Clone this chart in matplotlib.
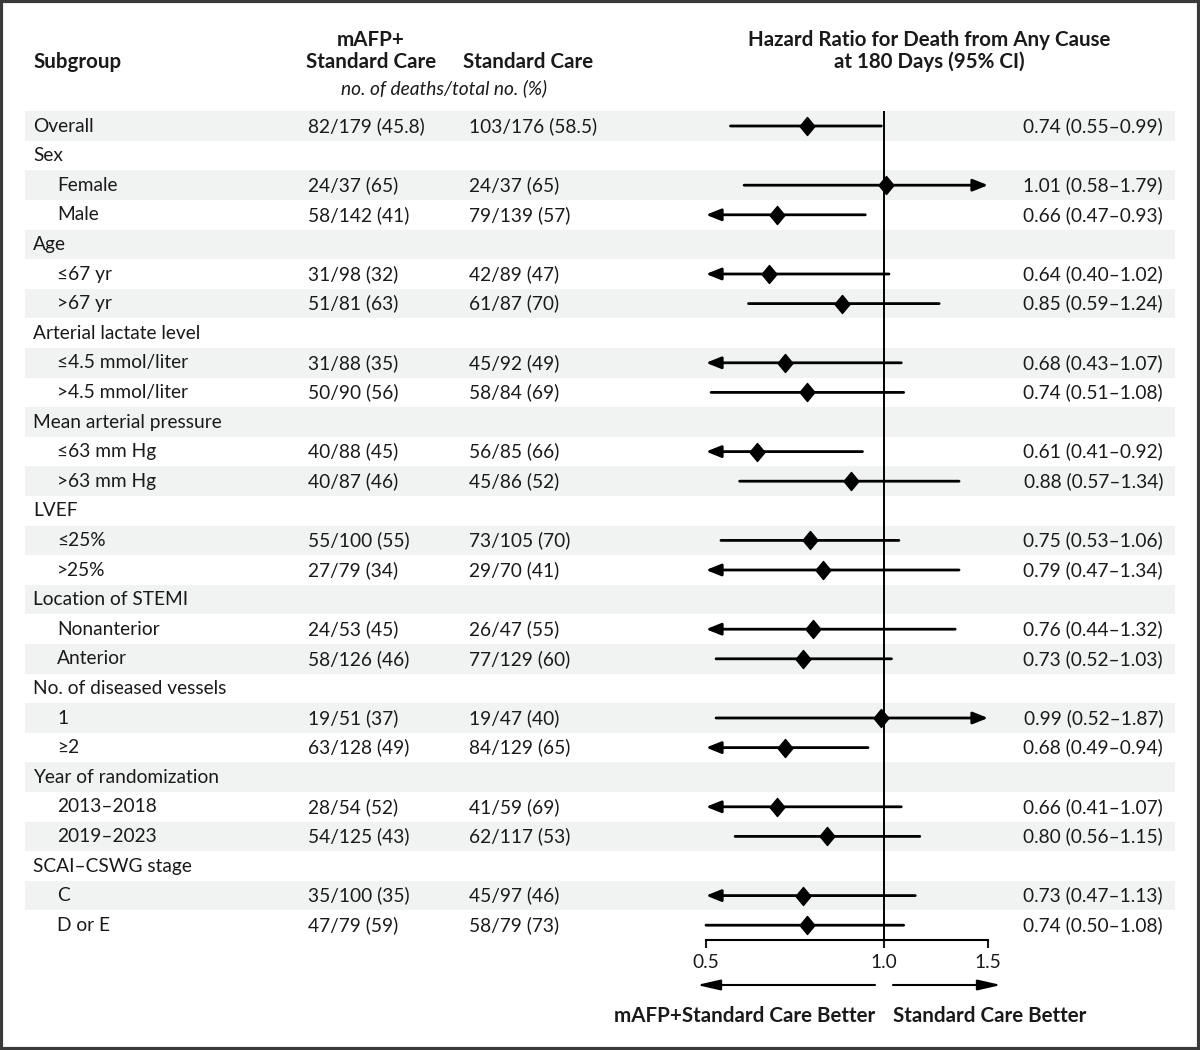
import matplotlib
matplotlib.use("Agg")
import matplotlib.pyplot as plt
import matplotlib.transforms as mtransforms
from matplotlib.patches import Rectangle
from matplotlib.path import Path

plt.rcParams['font.family'] = ['Lato', 'DejaVu Sans']

# subgroup rows (header rows have no numbers)
subgroups = ["Overall", "Sex", "Female", "Male", "Age", "\u226467 yr", ">67 yr",
             "Arterial lactate level", "\u22644.5 mmol/liter", ">4.5 mmol/liter",
             "Mean arterial pressure", "\u226463 mm Hg", ">63 mm Hg",
             "LVEF", "\u226425%", ">25%",
             "Location of STEMI", "Nonanterior", "Anterior",
             "No. of diseased vessels", "1", "\u22652",
             "Year of randomization", "2013\u20132018", "2019\u20132023",
             "SCAI\u2013CSWG stage", "C", "D or E"]
indent = [0, 0, 1, 1, 0, 1, 1, 0, 1, 1, 0, 1, 1, 0, 1, 1, 0, 1, 1, 0, 1, 1, 0, 1, 1, 0, 1, 1]
mafp = ["82/179 (45.8)", "", "24/37 (65)", "58/142 (41)", "", "31/98 (32)", "51/81 (63)",
        "", "31/88 (35)", "50/90 (56)", "", "40/88 (45)", "40/87 (46)",
        "", "55/100 (55)", "27/79 (34)", "", "24/53 (45)", "58/126 (46)",
        "", "19/51 (37)", "63/128 (49)", "", "28/54 (52)", "54/125 (43)",
        "", "35/100 (35)", "47/79 (59)"]
std = ["103/176 (58.5)", "", "24/37 (65)", "79/139 (57)", "", "42/89 (47)", "61/87 (70)",
       "", "45/92 (49)", "58/84 (69)", "", "56/85 (66)", "45/86 (52)",
       "", "73/105 (70)", "29/70 (41)", "", "26/47 (55)", "77/129 (60)",
       "", "19/47 (40)", "84/129 (65)", "", "41/59 (69)", "62/117 (53)",
       "", "45/97 (46)", "58/79 (73)"]
hr = [0.74, None, 1.01, 0.66, None, 0.64, 0.85, None, 0.68, 0.74, None, 0.61, 0.88,
      None, 0.75, 0.79, None, 0.76, 0.73, None, 0.99, 0.68, None, 0.66, 0.80,
      None, 0.73, 0.74]
lo = [0.55, None, 0.58, 0.47, None, 0.40, 0.59, None, 0.43, 0.51, None, 0.41, 0.57,
      None, 0.53, 0.47, None, 0.44, 0.52, None, 0.52, 0.49, None, 0.41, 0.56,
      None, 0.47, 0.50]
hi = [0.99, None, 1.79, 0.93, None, 1.02, 1.24, None, 1.07, 1.08, None, 0.92, 1.34,
      None, 1.06, 1.34, None, 1.32, 1.03, None, 1.87, 0.94, None, 1.07, 1.15,
      None, 1.13, 1.08]
xticks = [0.5, 1.0, 1.5]
xtick_labels = ["0.5", "1.0", "1.5"]

W, H = 1200, 1050
txt = '#1a1a1a'
fs = 13.8
fsb = 14.8

fig = plt.figure(figsize=(W / 100, H / 100), dpi=100)

# forest axes: 0.5 at x=706px, 1.5 at x=988px, rows from 111 to 940px
ax = fig.add_axes([706 / W, 1 - 940 / H, (988 - 706) / W, (940 - 111.2) / H])
ax.set_xscale('log')
ax.set_xlim(0.5, 1.5)
n = len(subgroups)
ax.set_ylim(n - 0.5, -0.5)
ax.patch.set_alpha(0)

# row shading, full width of table
trans = mtransforms.blended_transform_factory(fig.transFigure, ax.transData)
for i in range(n):
    if i % 2 == 0:
        ax.add_patch(Rectangle((25 / W, i - 0.5), (1175 - 25) / W, 1.0, transform=trans,
                               facecolor='#f1f2f2', edgecolor='none', clip_on=False, zorder=0))

ax.axvline(1.0, color='black', lw=1.4, zorder=2)

diamond = Path([(0, 1), (0.83, 0), (0, -1), (-0.83, 0), (0, 1)],
               [Path.MOVETO, Path.LINETO, Path.LINETO, Path.LINETO, Path.CLOSEPOLY])
xmin, xmax = 0.5, 1.5
arrow_kw = dict(color='black', lw=2.0, shrinkA=0, shrinkB=0, mutation_scale=20)
for i in range(n):
    # text columns
    ax.text((33 + 24 * indent[i]) / W, i, subgroups[i], transform=trans, fontsize=fs,
            color=txt, va='center', ha='left')
    if hr[i] is None:
        continue
    ax.text(308 / W, i, mafp[i], transform=trans, fontsize=fs, color=txt, va='center', ha='left')
    ax.text(469 / W, i, std[i], transform=trans, fontsize=fs, color=txt, va='center', ha='left')
    ax.text(1163 / W, i, "%.2f (%.2f\u2013%.2f)" % (hr[i], lo[i], hi[i]), transform=trans,
            fontsize=fs, color=txt, va='center', ha='right')

    # confidence interval, arrow where it runs off the scale
    a = max(lo[i], xmin)
    b = min(hi[i], xmax)
    left_arrow = lo[i] < xmin
    right_arrow = hi[i] > xmax
    if left_arrow and right_arrow:
        style = '<|-|>'
    elif left_arrow:
        style = '<|-'
    elif right_arrow:
        style = '-|>'
    else:
        style = '-'
    ax.annotate('', xy=(b, i), xytext=(a, i), xycoords='data',
                arrowprops=dict(arrowstyle=style + (',head_length=0.45,head_width=0.18' if style != '-' else ''),
                                **arrow_kw), annotation_clip=False)
    ax.plot([hr[i]], [i], marker=diamond, markersize=13, color='black', zorder=4)

# x axis
for s in ['top', 'right', 'left']:
    ax.spines[s].set_visible(False)
ax.spines['bottom'].set_linewidth(1.5)
ax.set_yticks([])
ax.set_xticks(xticks)
ax.set_xticklabels(xtick_labels)
ax.minorticks_off()
ax.tick_params(axis='x', direction='out', length=6, width=1.5, pad=4, labelsize=fs, colors=txt)

# headers
fig.text(33 / W, 1 - 62 / H, "Subgroup", fontsize=fsb, fontweight='bold', color=txt, va='center')
fig.text(371 / W, 1 - 40 / H, "mAFP+", fontsize=fsb, fontweight='bold', color=txt, va='center', ha='center')
fig.text(371 / W, 1 - 62 / H, "Standard Care", fontsize=fsb, fontweight='bold', color=txt, va='center', ha='center')
fig.text(528 / W, 1 - 62 / H, "Standard Care", fontsize=fsb, fontweight='bold', color=txt, va='center', ha='center')
fig.text(444 / W, 1 - 88 / H, "no. of deaths/total no. (%)", fontsize=fs, style='italic', color=txt,
         va='center', ha='center')
fig.text(929 / W, 1 - 40 / H, "Hazard Ratio for Death from Any Cause", fontsize=fsb, fontweight='bold',
         color=txt, va='center', ha='center')
fig.text(929 / W, 1 - 62 / H, "at 180 Days (95% CI)", fontsize=fsb, fontweight='bold',
         color=txt, va='center', ha='center')

# direction arrows under the axis
big_arrow = dict(arrowstyle='-|>,head_length=0.7,head_width=0.16', color='black', lw=1.5,
                 shrinkA=0, shrinkB=0, mutation_scale=20)
fig.add_artist(plt.Annotation('', xy=(697 / W, 1 - 985 / H), xytext=(875 / W, 1 - 985 / H),
                              xycoords='figure fraction', arrowprops=big_arrow))
fig.add_artist(plt.Annotation('', xy=(1001 / W, 1 - 985 / H), xytext=(893 / W, 1 - 985 / H),
                              xycoords='figure fraction', arrowprops=big_arrow))
fig.text(875 / W, 1 - 1016 / H, "mAFP+Standard Care Better", fontsize=fsb, fontweight='bold',
         color=txt, va='center', ha='right')
fig.text(893 / W, 1 - 1016 / H, "Standard Care Better", fontsize=fsb, fontweight='bold',
         color=txt, va='center', ha='left')

# outer frame
fig.add_artist(Rectangle((0.001, 0.001), 0.998, 0.998, transform=fig.transFigure, fill=False,
                         edgecolor='#3a3a3a', lw=3))

fig.savefig("out.png", dpi=100)
